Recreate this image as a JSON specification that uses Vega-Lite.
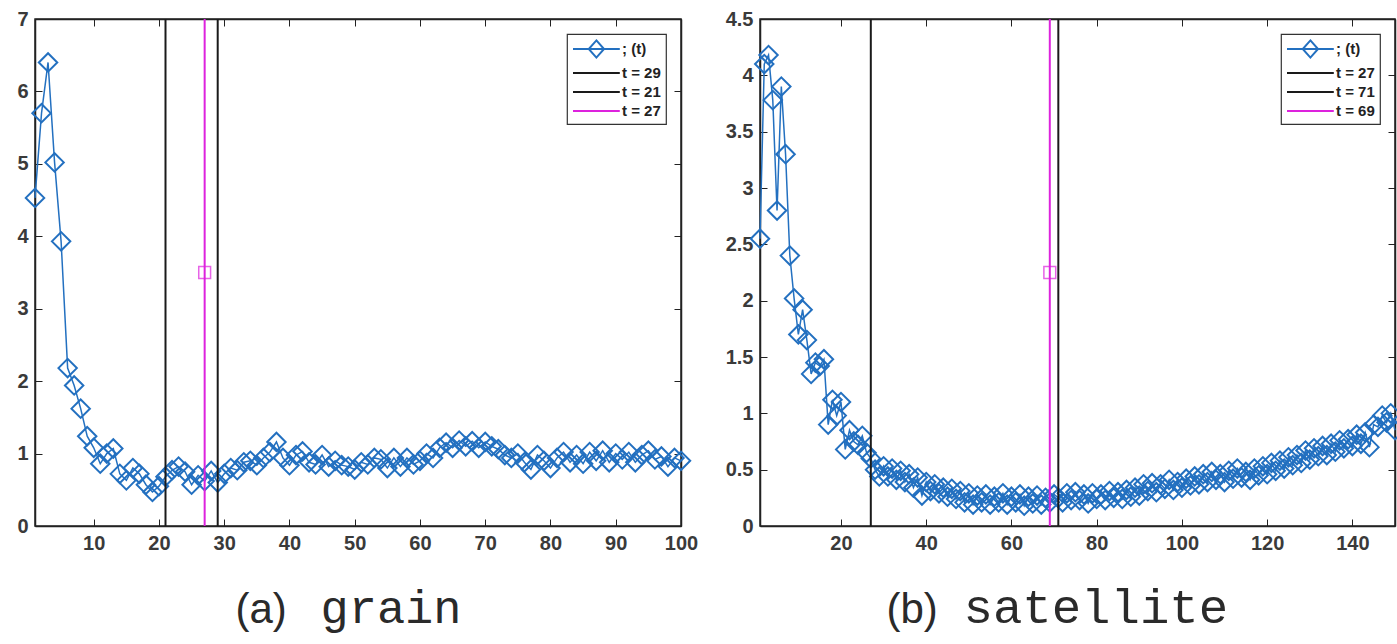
{
  "$schema": "https://vega.github.io/schema/vega-lite/v6.json",
  "background": "white",
  "padding": {"left": 16, "top": 8, "right": 0, "bottom": 0},
  "spacing": 25,
  "datasets": {
    "grain": [
      {"t":1,"v":4.53},{"t":2,"v":5.7},{"t":3,"v":6.4},{"t":4,"v":5.02},{"t":5,"v":3.93},
      {"t":6,"v":2.18},{"t":7,"v":1.94},{"t":8,"v":1.62},{"t":9,"v":1.24},{"t":10,"v":1.08},
      {"t":11,"v":0.86},{"t":12,"v":1.0},{"t":13,"v":1.07},{"t":14,"v":0.72},{"t":15,"v":0.63},
      {"t":16,"v":0.8},{"t":17,"v":0.72},{"t":18,"v":0.57},{"t":19,"v":0.47},{"t":20,"v":0.55},
      {"t":21,"v":0.68},{"t":22,"v":0.77},{"t":23,"v":0.82},{"t":24,"v":0.75},{"t":25,"v":0.57},
      {"t":26,"v":0.7},{"t":27,"v":0.62},{"t":28,"v":0.76},{"t":29,"v":0.6},{"t":30,"v":0.72},
      {"t":31,"v":0.8},{"t":32,"v":0.77},{"t":33,"v":0.88},{"t":34,"v":0.9},{"t":35,"v":0.84},
      {"t":36,"v":0.94},{"t":37,"v":1.02},{"t":38,"v":1.16},{"t":39,"v":0.94},{"t":40,"v":0.84},
      {"t":41,"v":0.98},{"t":42,"v":1.03},{"t":43,"v":0.88},{"t":44,"v":0.85},{"t":45,"v":0.98},
      {"t":46,"v":0.82},{"t":47,"v":0.9},{"t":48,"v":0.84},{"t":49,"v":0.82},{"t":50,"v":0.78},
      {"t":51,"v":0.88},{"t":52,"v":0.85},{"t":53,"v":0.94},{"t":54,"v":0.92},{"t":55,"v":0.8},
      {"t":56,"v":0.94},{"t":57,"v":0.82},{"t":58,"v":0.94},{"t":59,"v":0.85},{"t":60,"v":0.9},
      {"t":61,"v":1.0},{"t":62,"v":0.94},{"t":63,"v":1.08},{"t":64,"v":1.15},{"t":65,"v":1.08},
      {"t":66,"v":1.18},{"t":67,"v":1.1},{"t":68,"v":1.17},{"t":69,"v":1.08},{"t":70,"v":1.16},
      {"t":71,"v":1.1},{"t":72,"v":1.06},{"t":73,"v":0.98},{"t":74,"v":0.94},{"t":75,"v":1.0},
      {"t":76,"v":0.88},{"t":77,"v":0.78},{"t":78,"v":0.98},{"t":79,"v":0.9},{"t":80,"v":0.8},
      {"t":81,"v":0.94},{"t":82,"v":1.02},{"t":83,"v":0.88},{"t":84,"v":0.98},{"t":85,"v":0.86},
      {"t":86,"v":1.02},{"t":87,"v":0.9},{"t":88,"v":1.04},{"t":89,"v":0.88},{"t":90,"v":1.0},
      {"t":91,"v":0.92},{"t":92,"v":1.02},{"t":93,"v":0.88},{"t":94,"v":0.98},{"t":95,"v":1.04},
      {"t":96,"v":0.92},{"t":97,"v":0.96},{"t":98,"v":0.82},{"t":99,"v":0.94},{"t":100,"v":0.9}
    ],
    "grainRules": [
      {"t":29,"label":"t = 29"},{"t":21,"label":"t = 21"},{"t":27,"label":"t = 27"}
    ],
    "grainMark": [{"t":27,"v":3.5}],
    "satellite": [
      {"t":1,"v":2.55},{"t":2,"v":4.1},{"t":3,"v":4.18},{"t":4,"v":3.78},{"t":5,"v":2.8},
      {"t":6,"v":3.9},{"t":7,"v":3.3},{"t":8,"v":2.4},{"t":9,"v":2.02},{"t":10,"v":1.7},
      {"t":11,"v":1.92},{"t":12,"v":1.65},{"t":13,"v":1.35},{"t":14,"v":1.45},{"t":15,"v":1.42},
      {"t":16,"v":1.48},{"t":17,"v":0.9},{"t":18,"v":1.12},{"t":19,"v":0.98},{"t":20,"v":1.1},
      {"t":21,"v":0.68},{"t":22,"v":0.85},{"t":23,"v":0.75},{"t":24,"v":0.72},{"t":25,"v":0.8},
      {"t":26,"v":0.65},{"t":27,"v":0.6},{"t":28,"v":0.5},{"t":29,"v":0.44},{"t":30,"v":0.53},
      {"t":31,"v":0.44},{"t":32,"v":0.51},{"t":33,"v":0.41},{"t":34,"v":0.49},{"t":35,"v":0.39},
      {"t":36,"v":0.46},{"t":37,"v":0.34},{"t":38,"v":0.43},{"t":39,"v":0.27},{"t":40,"v":0.39},
      {"t":41,"v":0.31},{"t":42,"v":0.37},{"t":43,"v":0.29},{"t":44,"v":0.34},{"t":45,"v":0.26},
      {"t":46,"v":0.33},{"t":47,"v":0.24},{"t":48,"v":0.31},{"t":49,"v":0.21},{"t":50,"v":0.29},
      {"t":51,"v":0.19},{"t":52,"v":0.27},{"t":53,"v":0.21},{"t":54,"v":0.28},{"t":55,"v":0.19},
      {"t":56,"v":0.26},{"t":57,"v":0.21},{"t":58,"v":0.29},{"t":59,"v":0.19},{"t":60,"v":0.26},
      {"t":61,"v":0.21},{"t":62,"v":0.28},{"t":63,"v":0.18},{"t":64,"v":0.26},{"t":65,"v":0.2},
      {"t":66,"v":0.27},{"t":67,"v":0.19},{"t":68,"v":0.25},{"t":69,"v":0.21},{"t":70,"v":0.28},
      {"t":71,"v":0.25},{"t":72,"v":0.21},{"t":73,"v":0.29},{"t":74,"v":0.23},{"t":75,"v":0.3},
      {"t":76,"v":0.23},{"t":77,"v":0.28},{"t":78,"v":0.2},{"t":79,"v":0.29},{"t":80,"v":0.24},
      {"t":81,"v":0.28},{"t":82,"v":0.23},{"t":83,"v":0.31},{"t":84,"v":0.25},{"t":85,"v":0.3},
      {"t":86,"v":0.24},{"t":87,"v":0.32},{"t":88,"v":0.26},{"t":89,"v":0.34},{"t":90,"v":0.27},
      {"t":91,"v":0.37},{"t":92,"v":0.31},{"t":93,"v":0.38},{"t":94,"v":0.3},{"t":95,"v":0.37},
      {"t":96,"v":0.33},{"t":97,"v":0.41},{"t":98,"v":0.32},{"t":99,"v":0.39},{"t":100,"v":0.34},
      {"t":101,"v":0.42},{"t":102,"v":0.36},{"t":103,"v":0.44},{"t":104,"v":0.37},{"t":105,"v":0.46},
      {"t":106,"v":0.39},{"t":107,"v":0.48},{"t":108,"v":0.41},{"t":109,"v":0.46},{"t":110,"v":0.39},
      {"t":111,"v":0.49},{"t":112,"v":0.42},{"t":113,"v":0.51},{"t":114,"v":0.43},{"t":115,"v":0.48},
      {"t":116,"v":0.41},{"t":117,"v":0.51},{"t":118,"v":0.45},{"t":119,"v":0.53},{"t":120,"v":0.46},
      {"t":121,"v":0.56},{"t":122,"v":0.49},{"t":123,"v":0.58},{"t":124,"v":0.51},{"t":125,"v":0.61},
      {"t":126,"v":0.54},{"t":127,"v":0.63},{"t":128,"v":0.56},{"t":129,"v":0.67},{"t":130,"v":0.59},
      {"t":131,"v":0.69},{"t":132,"v":0.62},{"t":133,"v":0.71},{"t":134,"v":0.63},{"t":135,"v":0.73},
      {"t":136,"v":0.66},{"t":137,"v":0.76},{"t":138,"v":0.69},{"t":139,"v":0.77},{"t":140,"v":0.71},
      {"t":141,"v":0.81},{"t":142,"v":0.73},{"t":143,"v":0.83},{"t":144,"v":0.7},{"t":145,"v":0.9},
      {"t":146,"v":0.88},{"t":147,"v":0.98},{"t":148,"v":0.92},{"t":149,"v":1.0},{"t":150,"v":0.85}
    ],
    "satelliteRules": [
      {"t":27,"label":"t = 27"},{"t":71,"label":"t = 71"},{"t":69,"label":"t = 69"}
    ],
    "satelliteMark": [{"t":69,"v":2.25}]
  },
  "hconcat": [
    {
      "width": 646,
      "height": 507,
      "layer": [
        {
          "data": {"name": "grain"},
          "mark": {"type": "line", "strokeWidth": 1.5, "point": {"shape": "diamond", "filled": false, "size": 340, "strokeWidth": 2}},
          "encoding": {
            "x": {"field": "t", "type": "quantitative",
              "scale": {"domain": [1, 100], "nice": false, "zero": false},
              "axis": {"orient": "bottom", "values": [10,20,30,40,50,60,70,80,90,100],
                "title": "(a)", "titleX": 200, "titleY": 96, "titleAlign": "left", "titleBaseline": "alphabetic",
                "titleFont": "Liberation Sans", "titleFontSize": 42}},
            "y": {"field": "v", "type": "quantitative",
              "scale": {"domain": [0, 7], "nice": false, "zero": false},
              "axis": {"orient": "left", "values": [0,1,2,3,4,5,6,7], "title": null}},
            "color": {"datum": "; (t)", "title": null,
              "scale": {"domain": ["; (t)", "t = 29", "t = 21", "t = 27"], "range": ["#2370c0", "#1a1a1a", "#1a1a1a", "#dd22dd"]},
              "legend": {"orient": "top-right", "offset": 15, "title": null,
                "encode": {"symbols": {"update": {
                  "shape": {"signal": "datum.value === '; (t)' ? 'M-1,0H4.2M1.6,-0.95L2.45,0L1.6,0.95L0.75,0Z' : 'M-1,0H4.2'"},
                  "fill": {"value": "transparent"},
                  "strokeWidth": {"value": 2}}}}}}
          }
        },
        {
          "data": {"name": "grainRules"},
          "mark": {"type": "rule", "strokeWidth": 2},
          "encoding": {
            "x": {"field": "t", "type": "quantitative",
              "axis": {"orient": "top", "values": [10,20,30,40,50,60,70,80,90,100], "labels": false,
                "title": "grain", "titleX": 285, "titleY": 603, "titleAlign": "left", "titleBaseline": "alphabetic",
                "titleFont": "Liberation Mono", "titleFontSize": 47}},
            "color": {"field": "label", "type": "nominal", "title": null}
          }
        },
        {
          "data": {"name": "grainMark"},
          "mark": {"type": "point", "shape": "square", "filled": false, "size": 140, "strokeWidth": 1.5},
          "encoding": {
            "x": {"field": "t", "type": "quantitative", "axis": null},
            "y": {"field": "v", "type": "quantitative",
              "axis": {"orient": "right", "values": [0,1,2,3,4,5,6,7], "labels": false, "title": null}},
            "color": {"datum": "t = 27", "title": null}
          }
        }
      ],
      "resolve": {"axis": {"x": "independent", "y": "independent"}}
    },
    {
      "width": 635,
      "height": 507,
      "layer": [
        {
          "data": {"name": "satellite"},
          "mark": {"type": "line", "strokeWidth": 1.5, "point": {"shape": "diamond", "filled": false, "size": 340, "strokeWidth": 2}},
          "encoding": {
            "x": {"field": "t", "type": "quantitative",
              "scale": {"domain": [1, 150], "nice": false, "zero": false},
              "axis": {"orient": "bottom", "values": [20,40,60,80,100,120,140],
                "title": "(b)", "titleX": 126, "titleY": 96, "titleAlign": "left", "titleBaseline": "alphabetic",
                "titleFont": "Liberation Sans", "titleFontSize": 42}},
            "y": {"field": "v", "type": "quantitative",
              "scale": {"domain": [0, 4.5], "nice": false, "zero": false},
              "axis": {"orient": "left", "values": [0,0.5,1,1.5,2,2.5,3,3.5,4,4.5], "format": "~g", "title": null}},
            "color": {"datum": "; (t)", "title": null,
              "scale": {"domain": ["; (t)", "t = 27", "t = 71", "t = 69"], "range": ["#2370c0", "#1a1a1a", "#1a1a1a", "#dd22dd"]},
              "legend": {"orient": "top-right", "offset": 15, "title": null,
                "encode": {"symbols": {"update": {
                  "shape": {"signal": "datum.value === '; (t)' ? 'M-1,0H4.2M1.6,-0.95L2.45,0L1.6,0.95L0.75,0Z' : 'M-1,0H4.2'"},
                  "fill": {"value": "transparent"},
                  "strokeWidth": {"value": 2}}}}}}
          }
        },
        {
          "data": {"name": "satelliteRules"},
          "mark": {"type": "rule", "strokeWidth": 2},
          "encoding": {
            "x": {"field": "t", "type": "quantitative",
              "axis": {"orient": "top", "values": [20,40,60,80,100,120,140], "labels": false,
                "title": "satellite", "titleX": 203, "titleY": 603, "titleAlign": "left", "titleBaseline": "alphabetic",
                "titleFont": "Liberation Mono", "titleFontSize": 49}},
            "color": {"field": "label", "type": "nominal", "title": null}
          }
        },
        {
          "data": {"name": "satelliteMark"},
          "mark": {"type": "point", "shape": "square", "filled": false, "size": 140, "strokeWidth": 1.5},
          "encoding": {
            "x": {"field": "t", "type": "quantitative", "axis": null},
            "y": {"field": "v", "type": "quantitative",
              "axis": {"orient": "right", "values": [0,0.5,1,1.5,2,2.5,3,3.5,4,4.5], "labels": false, "title": null}},
            "color": {"datum": "t = 69", "title": null}
          }
        }
      ],
      "resolve": {"axis": {"x": "independent", "y": "independent"}}
    }
  ],
  "resolve": {"scale": {"color": "independent"}, "legend": {"color": "independent"}},
  "config": {
    "view": {"stroke": "#222", "strokeWidth": 1.5},
    "axis": {
      "labelFont": "Liberation Sans", "labelFontWeight": "bold", "labelFontSize": 20, "labelColor": "#3a3a3a",
      "labelPadding": 14, "labelOverlap": false, "labelFlush": false,
      "domainColor": "#222", "domainWidth": 1.5, "tickColor": "#222", "tickSize": -7, "tickWidth": 1,
      "grid": false, "titleFontWeight": "normal", "titleColor": "#2a2a2a"
    },
    "legend": {
      "strokeColor": "#333", "fillColor": "white", "padding": 5, "strokeWidth": 1.2,
      "labelFont": "Liberation Sans", "labelFontWeight": "bold", "labelFontSize": 15, "labelColor": "#222",
      "symbolSize": 324, "symbolStrokeWidth": 2, "rowPadding": 1, "labelOffset": 30
    }
  }
}
